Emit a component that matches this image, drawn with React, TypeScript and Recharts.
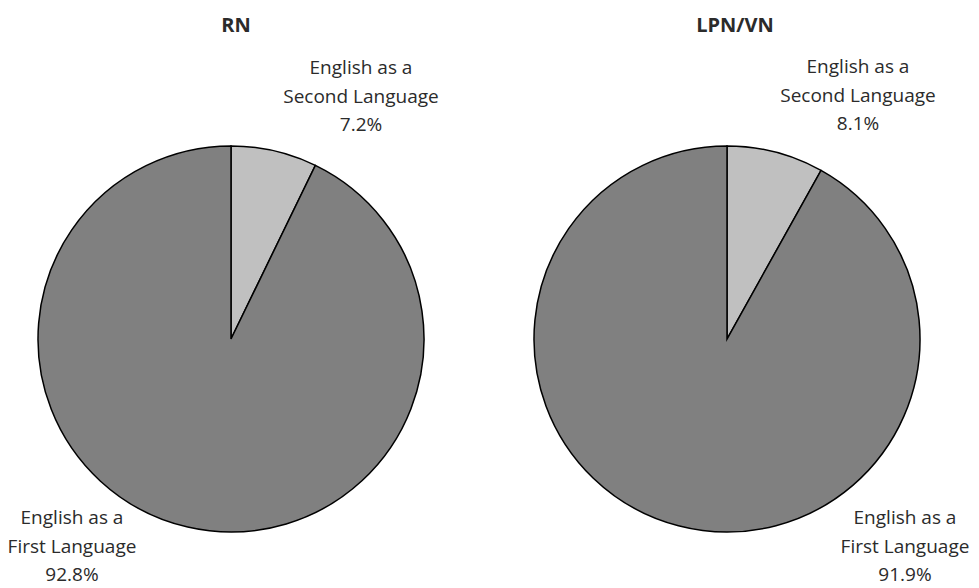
import { Cell, Pie, PieChart } from 'recharts';

// slices in drawing order: clockwise from 12 o'clock
const categories = ['English as a Second Language', 'English as a First Language'];
const rnValues = [7.2, 92.8];
const lpnValues = [8.1, 91.9];
const chartTitles = ['RN', 'LPN/VN'];

const sliceColors = ['#c0c0c0', '#808080'];
const textColor = '#2b2b2b';
const font = '"Open Sans", "Noto Sans", sans-serif';

const radius = 193;
const centerY = 339;
const pieCenters = [231, 727];
const titleX = [236, 735];

// where each slice's label sits, relative to its pie centre (first baseline)
const labelOffsets = [
  [
    { dx: 130, dy: -265 },
    { dx: -159, dy: 185 },
  ],
  [
    { dx: 131, dy: -266 },
    { dx: 178, dy: 185 },
  ],
];

function buildData(values: number[]) {
  return categories.map((name, i) => ({ name, value: values[i] }));
}

function makeLabel(pieIndex: number) {
  return (props: any) => {
    const { cx, cy, index, name, value } = props;
    const off = labelOffsets[pieIndex][index];
    const x = cx + off.dx;
    const y = cy + off.dy;
    const prefix = 'English as a';
    const lines = [prefix, name.slice(prefix.length + 1), `${value.toFixed(1)}%`];
    return (
      <text
        x={x}
        y={y}
        textAnchor="middle"
        fill={textColor}
        fontSize={19}
        fontFamily={font}
      >
        {lines.map((line, i) => (
          <tspan key={i} x={x} dy={i === 0 ? 0 : 28.5}>
            {line}
          </tspan>
        ))}
      </text>
    );
  };
}

export default function App() {
  const series = [rnValues, lpnValues];
  return (
    <div style={{ position: 'absolute', left: 0, top: 0, background: '#fff' }}>
      <PieChart width={979} height={588} margin={{ top: 0, right: 0, bottom: 0, left: 0 }}>
        {series.map((values, p) => (
          <Pie
            key={chartTitles[p]}
            data={buildData(values)}
            dataKey="value"
            nameKey="name"
            cx={pieCenters[p]}
            cy={centerY}
            outerRadius={radius}
            startAngle={90}
            endAngle={-270}
            stroke="#000"
            strokeWidth={1.5}
            label={makeLabel(p)}
            labelLine={false}
            isAnimationActive={false}
          >
            {values.map((_, i) => (
              <Cell key={i} fill={sliceColors[i]} />
            ))}
          </Pie>
        ))}
        {chartTitles.map((t, p) => (
          <text
            key={t}
            x={titleX[p]}
            y={32}
            textAnchor="middle"
            fontWeight="bold"
            fontSize={20}
            fontFamily={font}
            fill={textColor}
          >
            {t}
          </text>
        ))}
      </PieChart>
    </div>
  );
}
